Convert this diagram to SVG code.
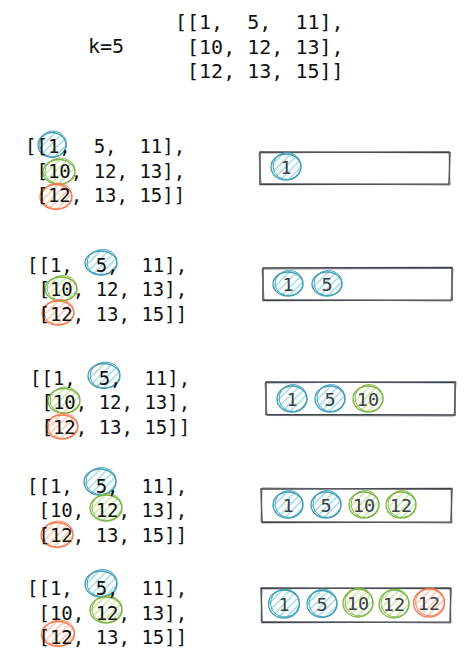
<svg xmlns="http://www.w3.org/2000/svg" width="465" height="658" viewBox="0 0 465 658">
<defs>
<pattern id="hb" patternUnits="userSpaceOnUse" width="5.5" height="5.5" patternTransform="rotate(45)"><line x1="1" y1="0" x2="1" y2="5.5" stroke="#9ad8e8" stroke-width="1.4"/></pattern>
<pattern id="hg" patternUnits="userSpaceOnUse" width="5.5" height="5.5" patternTransform="rotate(45)"><line x1="1" y1="0" x2="1" y2="5.5" stroke="#c8e6a0" stroke-width="1.4"/></pattern>
<pattern id="ho" patternUnits="userSpaceOnUse" width="5.5" height="5.5" patternTransform="rotate(45)"><line x1="1" y1="0" x2="1" y2="5.5" stroke="#ffc4a6" stroke-width="1.4"/></pattern>
</defs>
<style>
.m{font-family:"DejaVu Sans Mono","Liberation Mono",monospace;font-size:19px;fill:#111;white-space:pre}
.t{font-family:"DejaVu Sans Mono","Liberation Mono",monospace;font-size:20px;fill:#111;white-space:pre}
.n{font-family:"DejaVu Sans Mono","Liberation Mono",monospace;font-size:18.5px;fill:#3a3f44;text-anchor:middle}
.b{fill:url(#hb);stroke:#3f9db4;stroke-width:1.3}
.g{fill:url(#hg);stroke:#7db343;stroke-width:1.3}
.o{fill:url(#ho);stroke:#f47a50;stroke-width:1.3}
.b2{fill:none;stroke:#3f9db4;stroke-width:0.9}
.g2{fill:none;stroke:#7db343;stroke-width:0.9}
.o2{fill:none;stroke:#f47a50;stroke-width:0.9}
.bar{fill:none;stroke:#3d4247;stroke-width:1.4}
.bar2{fill:none;stroke:#5a6066;stroke-width:0.8}
</style>

<g id="k-label"><text class="t" x="88" y="53">k=5</text></g>
<g id="matrix-top">
<text class="t" x="175" y="29">[[1,  5,  11],</text>
<text class="t" x="175" y="53.5"> [10, 12, 13],</text>
<text class="t" x="175" y="78"> [12, 13, 15]]</text>
</g>

<g id="step1-matrix">
<ellipse class="b" cx="52" cy="145" rx="14" ry="12.5"/><ellipse class="b2" cx="53" cy="144" rx="13.5" ry="13" transform="rotate(-8 53 144)"/>
<ellipse class="g" cx="59" cy="172" rx="16" ry="12.5"/><ellipse class="g2" cx="60" cy="171" rx="15" ry="13" transform="rotate(-6 60 171)"/>
<ellipse class="o" cx="56" cy="197" rx="16" ry="12.5"/><ellipse class="o2" cx="57" cy="196" rx="15" ry="13" transform="rotate(-6 57 196)"/>
<text class="m" x="25" y="153">[[1,  5,  11],</text>
<text class="m" x="25" y="177.5"> [10, 12, 13],</text>
<text class="m" x="25" y="202"> [12, 13, 15]]</text>
</g>
<g id="step1-heap">
<path class="bar" d="M260 152 L450 152.5 L449 184 L260 184.5 Z"/>
<path class="bar2" d="M259 153 L449 151.5 L450 185 L261 183.5 Z"/>
<ellipse class="b" cx="286" cy="167" rx="15" ry="13"/><ellipse class="b2" cx="287" cy="166" rx="14" ry="13.5" transform="rotate(-8 287 166)"/>
<text class="n" x="286" y="173.5">1</text>
</g>

<g id="step2-matrix">
<ellipse class="b" cx="101" cy="263" rx="16" ry="12"/><ellipse class="b2" cx="102" cy="262" rx="15" ry="12.5" transform="rotate(-8 102 262)"/>
<ellipse class="g" cx="61" cy="289" rx="16" ry="12"/><ellipse class="g2" cx="62" cy="288" rx="15" ry="12.5" transform="rotate(-6 62 288)"/>
<ellipse class="o" cx="58" cy="313" rx="16" ry="12"/><ellipse class="o2" cx="59" cy="312" rx="15" ry="12.5" transform="rotate(-6 59 312)"/>
<text class="m" x="27" y="272">[[1,  5,  11],</text>
<text class="m" x="27" y="296"> [10, 12, 13],</text>
<text class="m" x="27" y="320.5"> [12, 13, 15]]</text>
</g>
<g id="step2-heap">
<path class="bar" d="M263 268 L452 267.5 L452 300 L263 300.5 Z"/>
<path class="bar2" d="M262 269 L453 268.5 L451 301 L264 299.5 Z"/>
<ellipse class="b" cx="288" cy="284" rx="15" ry="12"/><ellipse class="b2" cx="289" cy="283" rx="14" ry="12.5" transform="rotate(-8 289 283)"/>
<ellipse class="b" cx="327" cy="284" rx="15" ry="12"/><ellipse class="b2" cx="328" cy="283" rx="14" ry="12.5" transform="rotate(-8 328 283)"/>
<text class="n" x="288" y="290.5">1</text>
<text class="n" x="327" y="290.5">5</text>
</g>

<g id="step3-matrix">
<ellipse class="b" cx="104" cy="376" rx="16" ry="12.5"/><ellipse class="b2" cx="105" cy="375" rx="15" ry="13" transform="rotate(-8 105 375)"/>
<ellipse class="g" cx="64" cy="401" rx="16" ry="12.5"/><ellipse class="g2" cx="65" cy="400" rx="15" ry="13" transform="rotate(-6 65 400)"/>
<ellipse class="o" cx="62" cy="427" rx="16" ry="12"/><ellipse class="o2" cx="63" cy="426" rx="15" ry="12.5" transform="rotate(-6 63 426)"/>
<text class="m" x="30" y="384.5">[[1,  5,  11],</text>
<text class="m" x="30" y="409"> [10, 12, 13],</text>
<text class="m" x="30" y="433.5"> [12, 13, 15]]</text>
</g>
<g id="step3-heap">
<path class="bar" d="M266 382 L455 382.5 L455 415 L266 414.5 Z"/>
<path class="bar2" d="M265 383 L456 381.5 L454 416 L267 415.5 Z"/>
<ellipse class="b" cx="292" cy="399" rx="15" ry="13"/><ellipse class="b2" cx="293" cy="398" rx="14" ry="13.5" transform="rotate(-8 293 398)"/>
<ellipse class="b" cx="330" cy="399" rx="15" ry="13"/><ellipse class="b2" cx="331" cy="398" rx="14" ry="13.5" transform="rotate(-8 331 398)"/>
<ellipse class="g" cx="368" cy="399" rx="15" ry="13"/><ellipse class="g2" cx="369" cy="398" rx="14" ry="13.5" transform="rotate(-8 369 398)"/>
<text class="n" x="292" y="405.5">1</text>
<text class="n" x="330" y="405.5">5</text>
<text class="n" x="368" y="405.5">10</text>
</g>

<g id="step4-matrix">
<ellipse class="b" cx="100" cy="482" rx="16" ry="13"/><ellipse class="b2" cx="101" cy="481" rx="15" ry="13.5" transform="rotate(-8 101 481)"/>
<ellipse class="g" cx="106" cy="508" rx="16" ry="13"/><ellipse class="g2" cx="107" cy="507" rx="15" ry="13.5" transform="rotate(-6 107 507)"/>
<ellipse class="o" cx="57" cy="535" rx="16" ry="12.5"/><ellipse class="o2" cx="58" cy="534" rx="15" ry="13" transform="rotate(-6 58 534)"/>
<text class="m" x="27" y="492.5">[[1,  5,  11],</text>
<text class="m" x="27" y="517"> [10, 12, 13],</text>
<text class="m" x="27" y="541.5"> [12, 13, 15]]</text>
</g>
<g id="step4-heap">
<path class="bar" d="M261 489 L452 488.5 L451 522 L262 522.5 Z"/>
<path class="bar2" d="M262 488 L451 489.5 L452 523 L261 521.5 Z"/>
<ellipse class="b" cx="288" cy="505" rx="15" ry="13"/><ellipse class="b2" cx="289" cy="504" rx="14" ry="13.5" transform="rotate(-8 289 504)"/>
<ellipse class="b" cx="326" cy="505" rx="15" ry="13"/><ellipse class="b2" cx="327" cy="504" rx="14" ry="13.5" transform="rotate(-8 327 504)"/>
<ellipse class="g" cx="364" cy="505" rx="15" ry="13"/><ellipse class="g2" cx="365" cy="504" rx="14" ry="13.5" transform="rotate(-8 365 504)"/>
<ellipse class="g" cx="401" cy="505" rx="15" ry="13"/><ellipse class="g2" cx="402" cy="504" rx="14" ry="13.5" transform="rotate(-8 402 504)"/>
<text class="n" x="288" y="511.5">1</text>
<text class="n" x="326" y="511.5">5</text>
<text class="n" x="364" y="511.5">10</text>
<text class="n" x="401" y="511.5">12</text>
</g>

<g id="step5-matrix">
<ellipse class="b" cx="101" cy="584" rx="16" ry="13"/><ellipse class="b2" cx="102" cy="583" rx="15" ry="13.5" transform="rotate(-8 102 583)"/>
<ellipse class="g" cx="106" cy="610" rx="16" ry="13"/><ellipse class="g2" cx="107" cy="609" rx="15" ry="13.5" transform="rotate(-6 107 609)"/>
<ellipse class="o" cx="58" cy="634" rx="16.5" ry="12.5"/><ellipse class="o2" cx="59" cy="633" rx="15.5" ry="13" transform="rotate(-6 59 633)"/>
<text class="m" x="27" y="595">[[1,  5,  11],</text>
<text class="m" x="27" y="619.5"> [10, 12, 13],</text>
<text class="m" x="27" y="643.5"> [12, 13, 15]]</text>
</g>
<g id="step5-heap">
<path class="bar" d="M261 588 L451 588.5 L450 622 L262 622.5 Z"/>
<path class="bar2" d="M262 589 L450 587.5 L451 623 L261 621.5 Z"/>
<ellipse class="b" cx="284" cy="604" rx="15.5" ry="14"/><ellipse class="b2" cx="285" cy="603" rx="14.5" ry="14" transform="rotate(-8 285 603)"/>
<ellipse class="b" cx="322" cy="604" rx="15" ry="13.5"/><ellipse class="b2" cx="323" cy="603" rx="14" ry="14" transform="rotate(-8 323 603)"/>
<ellipse class="g" cx="358" cy="603" rx="15" ry="14"/><ellipse class="g2" cx="359" cy="602" rx="14" ry="14" transform="rotate(-8 359 602)"/>
<ellipse class="g" cx="394" cy="604" rx="15" ry="14"/><ellipse class="g2" cx="395" cy="603" rx="14" ry="14" transform="rotate(-8 395 603)"/>
<ellipse class="o" cx="429" cy="603" rx="15.5" ry="14"/><ellipse class="o2" cx="430" cy="602" rx="14.5" ry="14" transform="rotate(-8 430 602)"/>
<text class="n" x="284" y="610.5">1</text>
<text class="n" x="322" y="610.5">5</text>
<text class="n" x="358" y="609.5">10</text>
<text class="n" x="394" y="610.5">12</text>
<text class="n" x="429" y="609.5">12</text>
</g>
</svg>
